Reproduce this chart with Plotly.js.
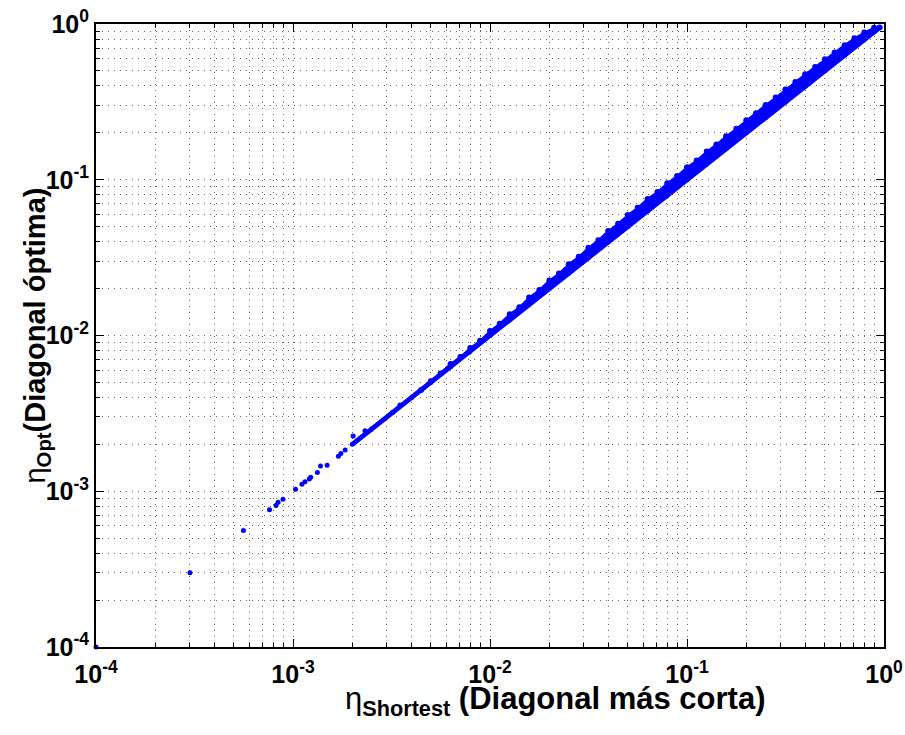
<!DOCTYPE html>
<html>
<head>
<meta charset="utf-8">
<script src="https://cdn.plot.ly/plotly-3.0.1.min.js"></script>
<style>html,body{margin:0;padding:0;background:#fff;}#chart{width:905px;height:735px;}</style>
</head>
<body>
<div id="chart"></div>
<script>
// Sparse / isolated points (eta_shortest, eta_opt)
const sparseX = [1.0e-4, 3.0e-4, 5.6e-4, 7.6e-4, 8.2e-4, 8.4e-4, 8.9e-4, 1.03e-3, 1.11e-3, 1.15e-3, 1.21e-3, 1.23e-3, 1.33e-3, 1.38e-3, 1.49e-3, 1.70e-3, 1.75e-3, 1.84e-3, 2.02e-3, 2.32e-3, 3.49e-3, 0.0391];
const sparseY = [1.0e-4, 3.0e-4, 5.6e-4, 7.6e-4, 8.1e-4, 8.5e-4, 8.9e-4, 1.03e-3, 1.11e-3, 1.15e-3, 1.20e-3, 1.23e-3, 1.32e-3, 1.45e-3, 1.47e-3, 1.68e-3, 1.75e-3, 1.84e-3, 2.26e-3, 2.45e-3, 3.58e-3, 0.0430];

// Lower edge of the dense cloud (eta_opt ~ eta_shortest)
const lowerX = [2.0e-3, 2.5e-3, 3.2e-3, 4.0e-3, 5.0e-3, 6.3e-3, 7.9e-3, 0.0100, 0.0126, 0.0158, 0.0200, 0.0251, 0.0316, 0.0398, 0.0501, 0.0631, 0.0794, 0.100, 0.126, 0.158, 0.200, 0.251, 0.316, 0.398, 0.501, 0.631, 0.794, 0.891, 0.950];
const lowerY = [2.0e-3, 2.5e-3, 3.2e-3, 4.0e-3, 5.0e-3, 6.3e-3, 7.9e-3, 0.0100, 0.0126, 0.0158, 0.0200, 0.0251, 0.0316, 0.0398, 0.0501, 0.0631, 0.0794, 0.100, 0.126, 0.158, 0.200, 0.251, 0.316, 0.398, 0.501, 0.631, 0.794, 0.891, 0.950];

// Upper edge of the dense cloud
const upperX = [0.00447, 0.00501, 0.00562, 0.00631, 0.00708, 0.00794, 0.00891, 0.0100, 0.0112, 0.0126, 0.0141, 0.0158, 0.0178, 0.0200, 0.0224, 0.0251, 0.0282, 0.0316, 0.0355, 0.0398, 0.0447, 0.0501, 0.0562, 0.0631, 0.0708, 0.0794, 0.0891, 0.100, 0.112, 0.126, 0.141, 0.158, 0.178, 0.200, 0.224, 0.251, 0.282, 0.316, 0.355, 0.398, 0.447, 0.501, 0.562, 0.631, 0.708, 0.794, 0.891, 0.950];
const upperY = [0.00447, 0.00508, 0.00570, 0.00655, 0.00729, 0.00830, 0.00925, 0.01069, 0.01188, 0.01367, 0.01518, 0.01752, 0.01959, 0.02251, 0.02503, 0.02867, 0.03198, 0.03663, 0.04085, 0.04683, 0.05221, 0.05938, 0.06612, 0.07535, 0.08330, 0.09482, 0.10561, 0.1203, 0.1328, 0.1516, 0.1684, 0.1901, 0.2126, 0.2406, 0.2675, 0.3020, 0.3368, 0.3801, 0.4239, 0.4753, 0.5298, 0.5938, 0.6564, 0.7315, 0.8087, 0.8805, 0.9453, 0.950];

const majorTicks = [1e-4, 1e-3, 1e-2, 1e-1, 1];
const majorLabels = ['10<sup>-4</sup>', '10<sup>-3</sup>', '10<sup>-2</sup>', '10<sup>-1</sup>', '10<sup>0</sup>'];
const xTitle = 'η<sub><b>Shortest</b></sub><b> (Diagonal más corta)</b>';
const yTitle = 'η<sub><b>Opt</b></sub><b>(Diagonal óptima)</b>';

const minorTicks = [];
for (let e = -4; e < 0; e++) {
  for (let m = 2; m <= 9; m++) minorTicks.push(m * Math.pow(10, e));
}

const blue = '#0000ff';
const FONT = 'Liberation Sans, Arial, Helvetica, sans-serif';

const traces = [
  {x: lowerX, y: lowerY, type: 'scatter', mode: 'lines+markers',
   line: {color: blue, width: 5}, marker: {color: blue, size: 5}, showlegend: false, hoverinfo: 'x+y'},
  {x: upperX, y: upperY, type: 'scatter', mode: 'lines+markers', fill: 'tonexty', fillcolor: blue,
   line: {color: blue, width: 2}, marker: {color: blue, size: 6}, showlegend: false, hoverinfo: 'x+y'},
  {x: sparseX, y: sparseY, type: 'scatter', mode: 'markers', cliponaxis: false,
   marker: {color: blue, size: 5}, showlegend: false, hoverinfo: 'x+y'}
];

function axis(standoff) {
  return {
    type: 'log',
    range: [-4, 0],
    tickmode: 'array',
    tickvals: majorTicks,
    ticktext: majorLabels,
    tickfont: {family: FONT, size: 25, color: '#000', weight: 'bold'},
    ticklabelstandoff: standoff,
    ticks: 'inside', ticklen: 8, tickwidth: 1, tickcolor: '#000',
    showline: true, linewidth: 2, linecolor: '#000', mirror: 'allticks',
    showgrid: true, gridcolor: '#666', gridwidth: 1, griddash: '1px,5px',
    zeroline: false,
    minor: {tickmode: 'array', tickvals: minorTicks, ticks: 'inside', ticklen: 4, tickwidth: 1, tickcolor: '#000',
            showgrid: true, gridcolor: '#666', gridwidth: 1, griddash: '1px,5px'},
    automargin: false
  };
}

const layout = {
  width: 905, height: 735,
  margin: {l: 96, r: 21, t: 24, b: 88},
  paper_bgcolor: '#fff', plot_bgcolor: '#fff',
  xaxis: axis(4), yaxis: axis(0),
  showlegend: false,
  annotations: [
    {text: xTitle, xref: 'paper', yref: 'paper', x: 0.5825, y: -0.0860, xanchor: 'center', yanchor: 'middle',
     showarrow: false, font: {family: FONT, size: 31, color: '#000'}},
    {text: yTitle, xref: 'paper', yref: 'paper', x: -0.0761, y: 0.5, xanchor: 'center', yanchor: 'middle',
     textangle: -90, showarrow: false, font: {family: FONT, size: 29, color: '#000'}}
  ]
};

Plotly.newPlot('chart', traces, layout, {displayModeBar: false, staticPlot: true});
</script>
</body>
</html>
